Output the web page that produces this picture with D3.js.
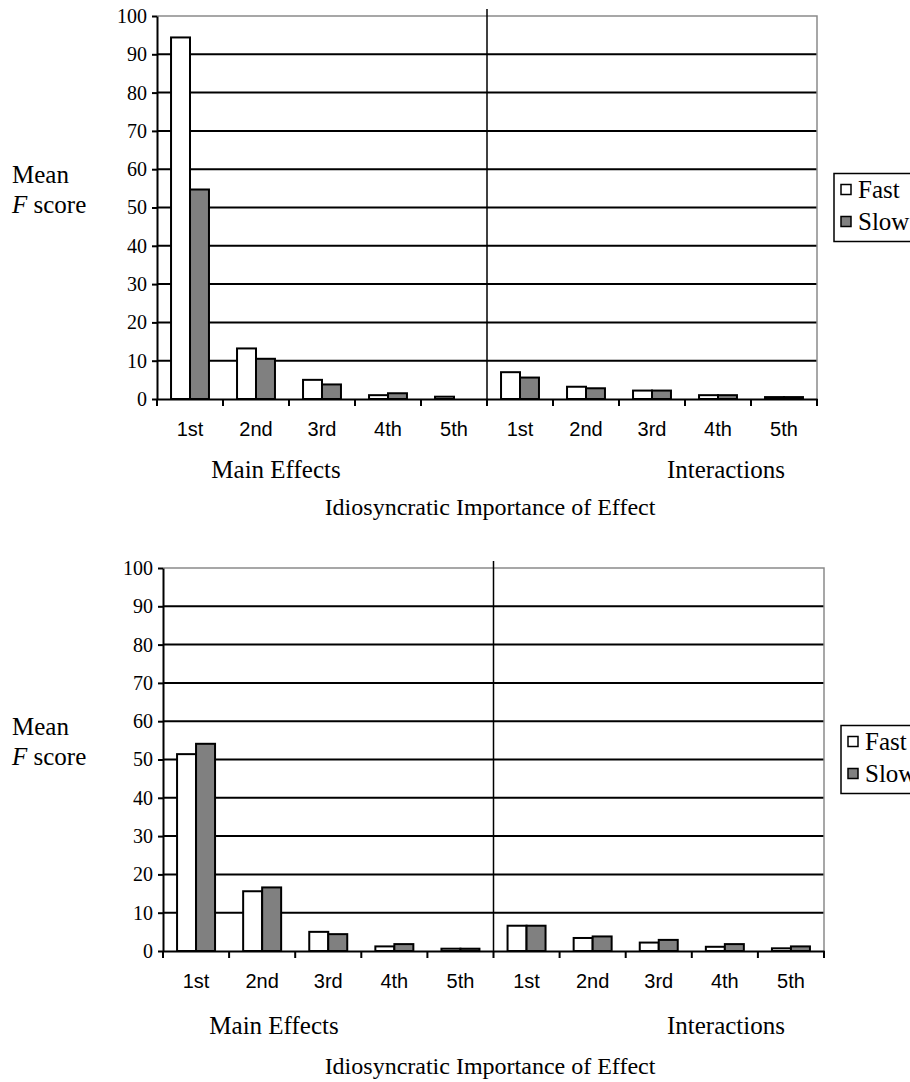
<!DOCTYPE html>
<html>
<head>
<meta charset="utf-8">
<script src="https://cdn.jsdelivr.net/npm/d3@7"></script>
<style>
  body { margin: 0; background: #fff; }
  svg { display: block; }
</style>
</head>
<body>
<div id="chart"></div>
<script>
// ---- data ----
const ranks = ["1st", "2nd", "3rd", "4th", "5th"];
const groups = ["Main Effects", "Interactions"];
const seriesNames = ["Fast", "Slow"];
const yTickValues = [0, 10, 20, 30, 40, 50, 60, 70, 80, 90, 100];

// order: Main 1st..5th, then Interactions 1st..5th
const topFast = [94.4, 13.2, 5.0, 1.0, 0.6, 7.0, 3.2, 2.2, 1.0, 0.5];
const topSlow = [54.7, 10.5, 3.8, 1.5, 0, 5.6, 2.8, 2.2, 1.0, 0.5];
const bottomFast = [51.4, 15.6, 5.0, 1.2, 0.6, 6.6, 3.4, 2.2, 1.1, 0.7];
const bottomSlow = [54.1, 16.6, 4.4, 1.8, 0.6, 6.6, 3.8, 2.9, 1.8, 1.2];

const axisTitle = "Idiosyncratic Importance of Effect";

// ---- setup ----
const W = 910, H = 1082;
const serif = "'Liberation Serif', 'Times New Roman', serif";
const sans = "'Liberation Sans', Arial, sans-serif";
const fills = { Fast: "#ffffff", Slow: "#808080" };

const categories = groups.flatMap(g => ranks.map(r => g + "|" + r));

const svg = d3.select("#chart").append("svg")
  .attr("width", W)
  .attr("height", H);

svg.append("rect").attr("width", W).attr("height", H).attr("fill", "#fff");

function drawPanel(p) {
  const g = svg.append("g");

  const x = d3.scaleBand().domain(categories).range([p.left, p.right]);
  const xs = d3.scaleBand().domain(seriesNames)
    .range([0, x.bandwidth()])
    .paddingOuter(0.74);
  const y = d3.scaleLinear().domain([0, 100]).range([p.bottom, p.top]);

  // horizontal gridlines
  g.append("g").selectAll("line")
    .data(yTickValues.filter(v => v > 0 && v < 100))
    .join("line")
    .attr("x1", p.left).attr("x2", p.right)
    .attr("y1", d => y(d)).attr("y2", d => y(d))
    .attr("stroke", "#000")
    .attr("stroke-width", 2);

  // grey frame on top and right
  g.append("path")
    .attr("d", `M${p.left},${y(100)}H${p.right}V${y(0)}`)
    .attr("fill", "none")
    .attr("stroke", "#8a8a8a")
    .attr("stroke-width", 1.5);

  // divider between main effects and interactions
  const divX = x(categories[ranks.length]);
  g.append("line")
    .attr("x1", divX).attr("x2", divX)
    .attr("y1", p.top - 7).attr("y2", p.bottom)
    .attr("stroke", "#000")
    .attr("stroke-width", 1.5);

  // bars
  const rows = categories.map((c, i) => ({ c, Fast: p.fast[i], Slow: p.slow[i] }));
  g.append("g").selectAll("g")
    .data(rows)
    .join("g")
    .attr("transform", d => `translate(${x(d.c)},0)`)
    .selectAll("rect")
    .data(d => seriesNames.map(s => ({ s, v: d[s] })).filter(e => e.v > 0))
    .join("rect")
    .attr("x", d => xs(d.s))
    .attr("y", d => y(d.v))
    .attr("width", xs.bandwidth())
    .attr("height", d => y(0) - y(d.v))
    .attr("fill", d => fills[d.s])
    .attr("stroke", "#000")
    .attr("stroke-width", 2);

  // y axis
  const yAxis = g.append("g")
    .attr("transform", `translate(${p.left},0)`)
    .call(d3.axisLeft(y).tickValues(yTickValues).tickSize(5).tickPadding(5).tickSizeOuter(0));
  yAxis.select(".domain").attr("stroke", "#000").attr("stroke-width", 2);
  yAxis.selectAll(".tick line").attr("stroke", "#000").attr("stroke-width", 2);
  yAxis.selectAll("text")
    .attr("font-family", serif)
    .attr("font-size", 20)
    .attr("fill", "#000");

  // x axis: labels at band centres
  const xAxis = g.append("g")
    .attr("transform", `translate(0,${p.bottom})`)
    .call(d3.axisBottom(x).tickSize(0).tickPadding(23).tickSizeOuter(0)
      .tickFormat(d => d.split("|")[1]));
  xAxis.select(".domain").attr("stroke", "#000").attr("stroke-width", 2);
  xAxis.selectAll("text")
    .attr("font-family", sans)
    .attr("font-size", 20)
    .attr("fill", "#000");

  // tick marks on band boundaries
  g.append("g").selectAll("line")
    .data(categories.map(c => x(c)).concat([p.right]))
    .join("line")
    .attr("x1", d => d).attr("x2", d => d)
    .attr("y1", p.bottom).attr("y2", p.bottom + 7)
    .attr("stroke", "#000")
    .attr("stroke-width", 2);

  // group labels + axis title
  g.append("text")
    .attr("x", p.mainX).attr("y", p.groupY)
    .attr("text-anchor", "middle")
    .attr("font-family", serif).attr("font-size", 25)
    .text(groups[0]);
  g.append("text")
    .attr("x", p.interX).attr("y", p.groupY)
    .attr("text-anchor", "middle")
    .attr("font-family", serif).attr("font-size", 25)
    .text(groups[1]);
  g.append("text")
    .attr("x", 490).attr("y", p.titleY)
    .attr("text-anchor", "middle")
    .attr("font-family", serif).attr("font-size", 24)
    .text(axisTitle);

  // y label "Mean F score"
  const mid = y(50);
  const yl = g.append("text")
    .attr("font-family", serif).attr("font-size", 25)
    .attr("fill", "#000");
  yl.append("tspan").attr("x", 12).attr("y", mid - 25).text("Mean");
  yl.append("tspan").attr("x", 12).attr("y", mid + 5).attr("font-style", "italic").text("F");
  yl.append("tspan").text(" score");

  // legend (runs off the right edge like the original)
  const lg = g.append("g").attr("transform", `translate(${p.right + 17},${mid - 34})`);
  lg.append("rect")
    .attr("width", 100).attr("height", 68)
    .attr("fill", "#fff")
    .attr("stroke", "#000")
    .attr("stroke-width", 1.5);
  const items = lg.selectAll("g.item")
    .data(seriesNames)
    .join("g")
    .attr("class", "item")
    .attr("transform", (d, i) => `translate(7,${11 + i * 32})`);
  items.append("rect")
    .attr("width", 10).attr("height", 10)
    .attr("fill", d => fills[d])
    .attr("stroke", "#000")
    .attr("stroke-width", 1.5);
  items.append("text")
    .attr("x", 17).attr("y", 13)
    .attr("font-family", serif).attr("font-size", 25)
    .text(d => d);
}

drawPanel({
  left: 157, right: 817, top: 16, bottom: 399,
  fast: topFast, slow: topSlow,
  mainX: 276, interX: 726, groupY: 478, titleY: 515
});

drawPanel({
  left: 163, right: 824, top: 568, bottom: 951,
  fast: bottomFast, slow: bottomSlow,
  mainX: 274, interX: 726, groupY: 1034, titleY: 1074
});
</script>
</body>
</html>
